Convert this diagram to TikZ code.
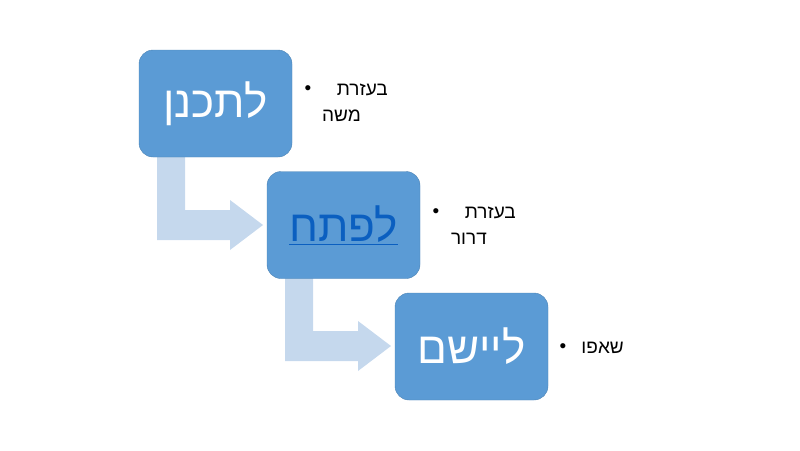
\documentclass[tikz,border=0pt]{standalone}
\usepackage{fontspec}
\setmainfont{Liberation Sans}
\newfontfamily\hebfont[Script=Hebrew]{Liberation Sans}
\TeXXeTstate=1
\definecolor{boxblue}{HTML}{5B9BD5}
\definecolor{arrblue}{HTML}{C5D8ED}
\definecolor{linkblue}{HTML}{0B5FC0}
\tikzset{
  stepbox/.style={fill=boxblue,draw=boxblue!85!black,line width=0.4pt,rounded corners=14pt,minimum width=153pt,minimum height=107pt,inner sep=0pt,text=white,font=\hebfont\fontsize{44}{48}\selectfont},
  bent/.style={fill=arrblue,draw=none},
  bul/.style={font=\hebfont\fontsize{19}{22}\selectfont,anchor=east,inner sep=0pt}
}
\begin{document}
\begin{tikzpicture}[x=1pt,y=-1pt]
\useasboundingbox (0,0) rectangle (800,450);
\fill[bent] (157,157) -- (185,157) -- (185,210) -- (230,210) -- (230,200) -- (263,225) -- (230,250) -- (230,240) -- (157,240) -- cycle;
\fill[bent] (285,278) -- (313,278) -- (313,331) -- (358,331) -- (358,321) -- (391,346) -- (358,371) -- (358,361) -- (285,361) -- cycle;
\node[stepbox] (a) at (215.5,103.5) {\beginR לתכנן\endR};
\node[stepbox] (b) at (343.5,225) {\textcolor{linkblue}{\underline{\beginR לפתח\endR}}};
\node[stepbox] (c) at (471.5,346.5) {\beginR ליישם\endR};
\node[bul] (a1) at (388,90) {\beginR בעזרת\endR};
\node[bul] (a2) at (361,116) {\beginR משה\endR};
\node[font=\fontsize{19}{22}\selectfont] (ad) at (308,90) {•};
\node[bul] (b1) at (516,213) {\beginR בעזרת\endR};
\node[bul] (b2) at (487,239) {\beginR דרור\endR};
\node[font=\fontsize{19}{22}\selectfont] (bd) at (436,213) {•};
\node[bul] (c1) at (624,348) {\beginR שאפו\endR};
\node[font=\fontsize{19}{22}\selectfont] (cd) at (563,348) {•};
\end{tikzpicture}
\end{document}
